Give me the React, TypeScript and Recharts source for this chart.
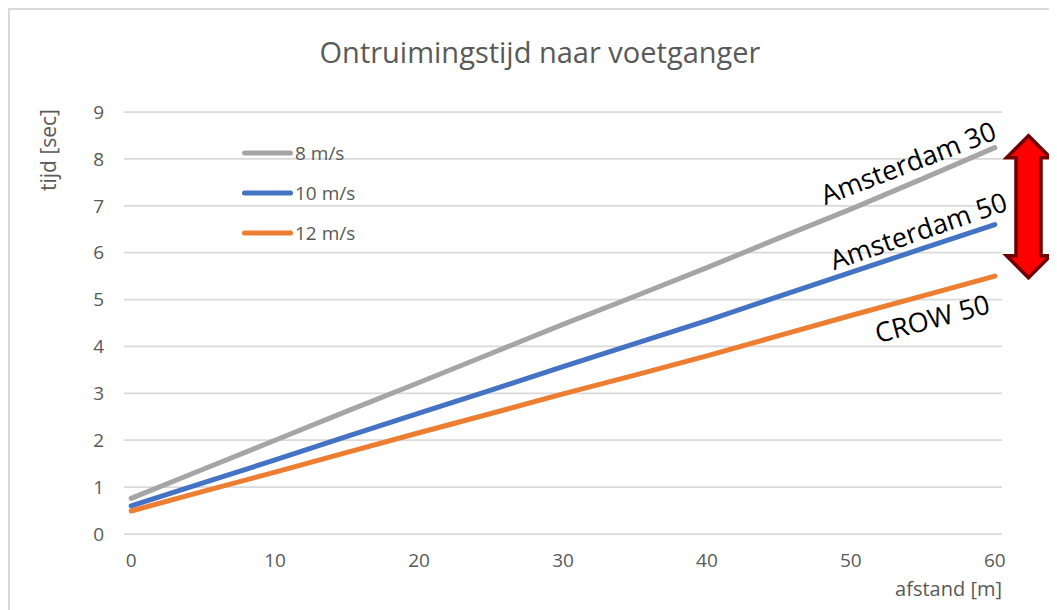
import React from 'react';
import { LineChart, Line, XAxis, YAxis, CartesianGrid, Legend, ReferenceDot, Label } from 'recharts';

// afstand [m] (categorieën 0..60)
const distances = [0, 5, 10, 15, 20, 25, 30, 35, 40, 45, 50, 55, 60];
// tijd [sec] per loopsnelheid
const speed8 = [0.76, 1.38, 2.0, 2.62, 3.23, 3.85, 4.47, 5.07, 5.68, 6.31, 6.93, 7.58, 8.24];
const speed10 = [0.6, 1.09, 1.58, 2.08, 2.58, 3.07, 3.57, 4.06, 4.55, 5.07, 5.58, 6.09, 6.6];
const speed12 = [0.49, 0.91, 1.32, 1.74, 2.16, 2.57, 2.99, 3.39, 3.8, 4.23, 4.66, 5.08, 5.5];

const xTicks = [0, 10, 20, 30, 40, 50, 60];
const xTickMarks = [-0.5, 9.5, 19.5, 29.5, 39.5, 49.5, 59.5];
const yTicks = [0, 1, 2, 3, 4, 5, 6, 7, 8, 9];

const seriesKeys = ['s8', 's10', 's12'];
const seriesNames = ['8 m/s', '10 m/s', '12 m/s'];
const seriesColors = ['#A5A5A5', '#4472C4', '#ED7D31'];

const annotationTexts = ['Amsterdam 30', 'Amsterdam 50', 'CROW 50'];
const annotationX = [53.97, 54.67, 55.64];
const annotationY = [7.93, 6.48, 4.61];
const annotationAngle = [-21, -19, -15];

const arrowX = 62.34;
const arrowY = 6.98;

const data = distances.map((d, i) => ({ x: d, s8: speed8[i], s10: speed10[i], s12: speed12[i] }));

const FONT = "'Open Sans', sans-serif";

const renderLegend = () => (
  <div style={{ display: 'flex', flexDirection: 'column', fontFamily: FONT }}>
    {seriesNames.map((n, i) => (
      <div key={n} style={{ display: 'flex', alignItems: 'center', height: 40 }}>
        <svg width={55} height={10} style={{ display: 'block' }}>
          <line x1={4.5} y1={5} x2={50.5} y2={5} stroke={seriesColors[i]} strokeWidth={5} strokeLinecap="round" />
        </svg>
        <span style={{ fontSize: 19, color: '#595959', lineHeight: '22px', whiteSpace: 'nowrap' }}>{n}</span>
      </div>
    ))}
  </div>
);

const Arrow = (p: any) => {
  const cx = p.cx, cy = p.cy;
  const pts = [
    [cx, cy - 71], [cx + 22, cy - 49], [cx + 12.5, cy - 49], [cx + 12.5, cy + 49], [cx + 22, cy + 49],
    [cx, cy + 71], [cx - 22, cy + 49], [cx - 12.5, cy + 49], [cx - 12.5, cy - 49], [cx - 22, cy - 49],
  ];
  return (
    <polygon
      points={pts.map((q) => q.join(',')).join(' ')}
      fill="#FF0000"
      stroke="#700000"
      strokeWidth={3.5}
      strokeLinejoin="miter"
    />
  );
};

export default function App() {
  return (
    <div style={{ position: 'relative', width: 1049, height: 602, overflow: 'hidden', fontFamily: FONT, background: '#fff' }}>
      <div style={{ position: 'absolute', left: 0, top: 0, width: 1300, height: 900, border: '2px solid #d9d9d9', boxSizing: 'border-box' }} />
      <div style={{ position: 'absolute', left: 0, top: 0 }}>
        <LineChart width={1049} height={602} data={data} margin={{ top: 104, right: 55, bottom: 46, left: 56 }}>
          <CartesianGrid xAxisId="cat" vertical={false} stroke="#d9d9d9" strokeWidth={1.75} />
          <XAxis
            xAxisId="marks"
            type="number"
            domain={[-0.5, 60.5]}
            ticks={xTickMarks}
            height={0}
            tick={false}
            axisLine={{ stroke: '#d9d9d9', strokeWidth: 2 }}
            tickLine={{ stroke: '#d9d9d9', strokeWidth: 1.5 }}
            tickSize={6}
          />
          <XAxis
            xAxisId="cat"
            type="number"
            dataKey="x"
            domain={[-0.5, 60.5]}
            ticks={xTicks}
            height={30}
            axisLine={false}
            tickLine={false}
            tickSize={6}
            tickMargin={14}
            tick={{ fill: '#595959', fontSize: 19 }}
          >
            <Label
              content={(props: any) => {
                const vb = props.viewBox || { x: 116, y: 526, width: 878 };
                return (
                  <text x={vb.x + vb.width} y={vb.y + 62} textAnchor="end" fontSize={20} fill="#595959">
                    afstand [m]
                  </text>
                );
              }}
            />
          </XAxis>
          <YAxis
            type="number"
            domain={[0, 9]}
            ticks={yTicks}
            width={60}
            axisLine={false}
            tickLine={false}
            tickMargin={14}
            tick={{ fill: '#595959', fontSize: 19 }}
          >
            <Label
              content={(props: any) => {
                const vb = props.viewBox || { x: 56, y: 104 };
                const tx = vb.x - 8;
                const ty = vb.y + 38;
                return (
                  <text x={tx} y={ty} transform={`rotate(-90 ${tx} ${ty})`} textAnchor="middle" fontSize={21} fill="#595959">
                    tijd [sec]
                  </text>
                );
              }}
            />
          </YAxis>
          <Legend
            layout="vertical"
            align="center"
            verticalAlign="middle"
            content={renderLegend}
            wrapperStyle={{ left: 232, top: 125, width: 'auto', height: 'auto' }}
          />
          {seriesKeys.map((k, i) => (
            <Line
              key={k}
              xAxisId="cat"
              type="linear"
              dataKey={k}
              name={seriesNames[i]}
              stroke={seriesColors[i]}
              strokeWidth={5}
              strokeLinecap="round"
              dot={false}
              activeDot={false}
              isAnimationActive={false}
            />
          ))}
          {annotationTexts.map((t, i) => (
            <ReferenceDot
              key={t}
              xAxisId="cat"
              x={annotationX[i]}
              y={annotationY[i]}
              ifOverflow="visible"
              shape={(p: any) => (
                <text
                  x={p.cx}
                  y={p.cy}
                  textAnchor="middle"
                  dominantBaseline="central"
                  transform={`rotate(${annotationAngle[i]} ${p.cx} ${p.cy})`}
                  fontSize={27}
                  fill="#000"
                >
                  {t}
                </text>
              )}
            />
          ))}
          <ReferenceDot xAxisId="cat" x={arrowX} y={arrowY} ifOverflow="visible" shape={Arrow} />
        </LineChart>
      </div>
      <svg width={1049} height={602} style={{ position: 'absolute', left: 0, top: 0, pointerEvents: 'none' }}>
        <text x={532} y={55} textAnchor="middle" fontSize={29} fill="#595959">
          Ontruimingstijd naar voetganger
        </text>
      </svg>
    </div>
  );
}
